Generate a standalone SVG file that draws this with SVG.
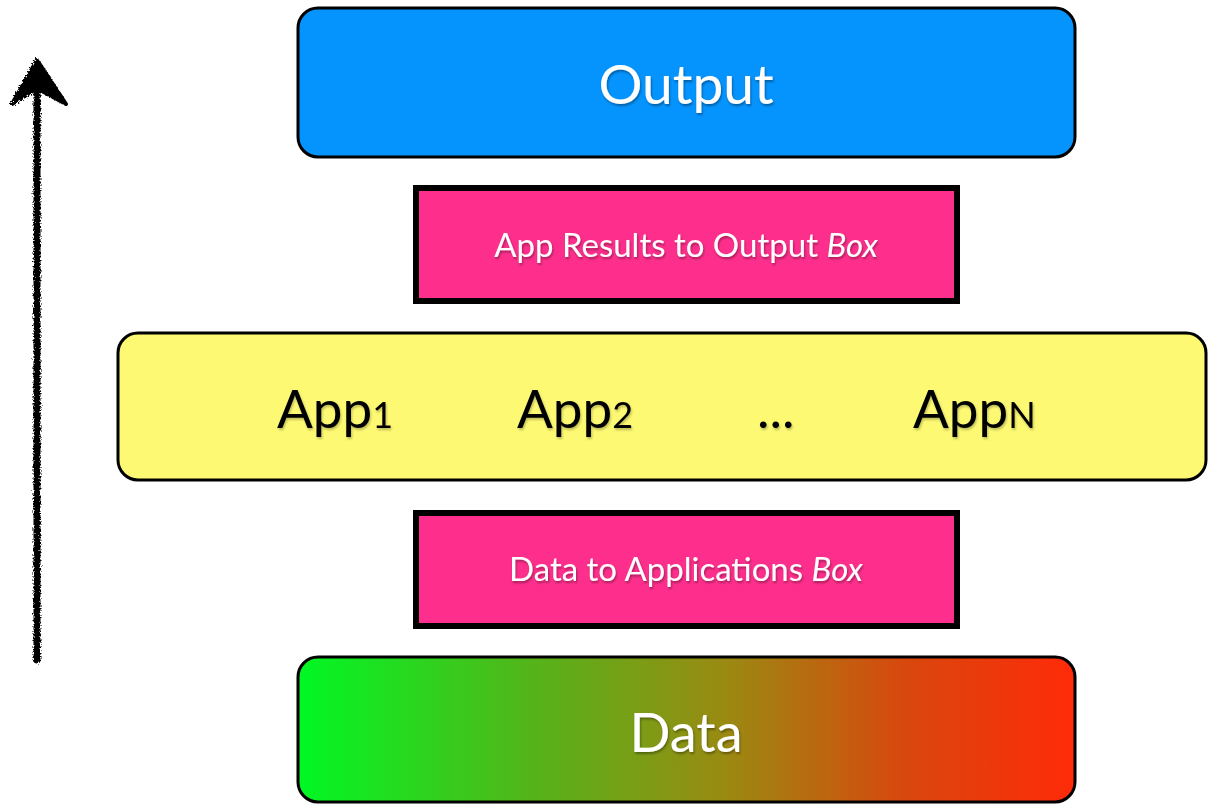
<svg xmlns="http://www.w3.org/2000/svg" width="1208" height="805" viewBox="0 0 1208 805">
  <style>
    .box { stroke: #000; stroke-width: 3; }
    .bar { fill: #fe2f8c; stroke: #000; stroke-width: 6; }
    .light { font-family: Lato, "Open Sans", sans-serif; fill: #fff; text-anchor: middle; filter: url(#shade); }
    .dark { font-family: Lato, "Open Sans", sans-serif; fill: #000; font-size: 53px; filter: url(#shadeSoft); }
  </style>
  <defs>
    <linearGradient id="dataFill" x1="0" y1="0" x2="1" y2="0">
      <stop offset="0" stop-color="#00f824"/>
      <stop offset="0.3" stop-color="#54b41a"/>
      <stop offset="0.55" stop-color="#9a8a12"/>
      <stop offset="0.78" stop-color="#d8480e"/>
      <stop offset="1" stop-color="#ff2a08"/>
    </linearGradient>
    <filter id="shade" x="-10%" y="-20%" width="120%" height="150%">
      <feDropShadow dx="1" dy="2" stdDeviation="1.2" flood-color="#000" flood-opacity="0.35"/>
    </filter>
    <filter id="shadeSoft" x="-10%" y="-20%" width="120%" height="150%">
      <feDropShadow dx="1" dy="2" stdDeviation="1" flood-color="#000" flood-opacity="0.25"/>
    </filter>
    <filter id="rough" x="-50%" y="-5%" width="200%" height="110%">
      <feTurbulence type="fractalNoise" baseFrequency="0.6" numOctaves="2" seed="3"/>
      <feDisplacementMap in="SourceGraphic" scale="5"/>
    </filter>
  </defs>

  <!-- upward direction arrow, drawn with a rough hand-made edge -->
  <g id="connectors" filter="url(#rough)">
    <path d="M37 660 L37 66" stroke="#000" stroke-width="7" fill="none" stroke-linecap="round"/>
    <path d="M37 60 L12 104 L34 90 L40 90 L66 104 Z" fill="#000" stroke="#000" stroke-width="4" stroke-linejoin="round"/>
  </g>

  <g id="output">
    <rect class="box" x="298" y="8" width="777" height="149" rx="20" fill="#0593fd"/>
    <text class="light" x="686" y="104" font-size="55">Output</text>
  </g>

  <g id="results-box">
    <rect class="bar" x="416" y="188" width="541" height="113"/>
    <text class="light" x="686" y="257" font-size="33">App Results to Output <tspan font-style="italic">Box</tspan></text>
  </g>

  <g id="apps">
    <rect class="box" x="118" y="333" width="1088" height="147" rx="20" fill="#fdf973"/>
    <text class="dark" x="277" y="428">App<tspan font-size="36">1</tspan></text>
    <text class="dark" x="517" y="428">App<tspan font-size="36">2</tspan></text>
    <text class="dark" x="757" y="428">...</text>
    <text class="dark" x="913" y="428">App<tspan font-size="36">N</tspan></text>
  </g>

  <g id="data-box">
    <rect class="bar" x="416" y="513" width="541" height="113"/>
    <text class="light" x="686" y="581" font-size="33">Data to Applications <tspan font-style="italic">Box</tspan></text>
  </g>

  <g id="data">
    <rect class="box" x="298" y="657" width="777" height="145" rx="20" fill="url(#dataFill)"/>
    <text class="light" x="686" y="752" font-size="54">Data</text>
  </g>
</svg>
